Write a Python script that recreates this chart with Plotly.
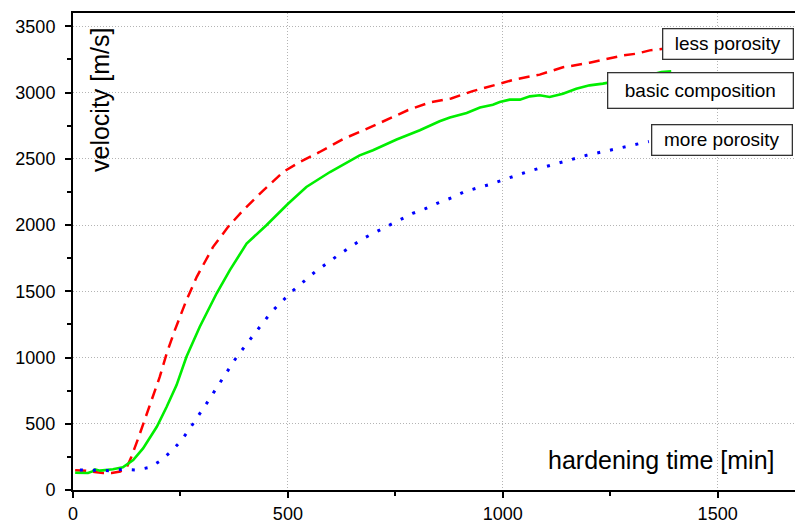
import plotly.graph_objects as go

# less porosity (red dashed)
t_less = [5, 30, 50, 70, 90, 110, 125, 136, 152, 167, 183, 202, 218, 237, 264, 288, 326, 361, 396,
          443, 489, 528, 574, 629, 680, 730, 780, 830, 880, 930, 980, 1030, 1086, 1140, 1202, 1249,
          1280, 1311, 1342, 1390]
v_less = [150, 145, 135, 128, 128, 140, 170, 251, 392, 528, 679, 855, 1031, 1207, 1433, 1609, 1835,
          1986, 2112, 2262, 2400, 2476, 2551, 2650, 2720, 2795, 2868, 2925, 2955, 3010, 3055, 3100,
          3135, 3190, 3225, 3255, 3280, 3293, 3318, 3335]

# basic composition (green solid)
t_basic = [5, 20, 35, 45, 51, 63, 80, 93, 116, 140, 163, 195, 218, 241, 264, 295, 334, 365, 404,
           450, 501, 543, 598, 667, 698, 753, 807, 853, 877, 916, 947, 977, 993, 1016, 1040, 1063,
           1086, 1109, 1140, 1171, 1202, 1233, 1290, 1340, 1369, 1392]
v_basic = [130, 127, 128, 140, 156, 146, 150, 156, 171, 226, 314, 477, 628, 792, 1005, 1232, 1483,
           1659, 1860, 1998, 2162, 2287, 2400, 2526, 2564, 2645, 2715, 2783, 2811, 2846, 2886,
           2908, 2928, 2946, 2946, 2971, 2979, 2966, 2991, 3029, 3054, 3067, 3100, 3130, 3155, 3160]

# more porosity (blue dotted)
t_more = [16, 50, 86, 116, 148, 179, 206, 230, 253, 272, 291, 311, 346, 381, 423, 462, 509, 563,
          617, 671, 701, 731, 760, 790, 820, 850, 881, 910, 941, 972, 1003, 1034, 1063, 1125, 1195,
          1257, 1288, 1319, 1340]
v_more = [151, 150, 146, 156, 151, 171, 226, 296, 377, 465, 553, 654, 830, 1005, 1182, 1345, 1496,
          1646, 1772, 1890, 1941, 1991, 2036, 2087, 2124, 2167, 2205, 2250, 2280, 2308, 2343, 2376,
          2408, 2463, 2526, 2570, 2594, 2619, 2630]

x_ticks = [0, 500, 1000, 1500]
y_ticks = [0, 500, 1000, 1500, 2000, 2500, 3000, 3500]

FONT = "Liberation Sans, Arial, sans-serif"

fig = go.Figure()
fig.add_trace(go.Scatter(x=t_less, y=v_less, mode="lines",
                         line=dict(color="#ff0000", width=2.5, dash="11px,7px"),
                         name="less porosity"))
fig.add_trace(go.Scatter(x=t_basic, y=v_basic, mode="lines",
                         line=dict(color="#00ee00", width=2.6),
                         name="basic composition"))
fig.add_trace(go.Scatter(x=t_more, y=v_more, mode="lines",
                         line=dict(color="#0000ff", width=3, dash="3px,10px"),
                         name="more porosity"))

minor = dict(ticks="outside", ticklen=4, tickwidth=2, tickcolor="black", showgrid=False,
             dtick=250, tick0=0)
axis_common = dict(
    showline=True, linecolor="black", linewidth=2,
    ticks="outside", ticklen=6, tickwidth=2, tickcolor="black",
    showgrid=True, gridcolor="#b4b4b4", griddash="1px,2px", gridwidth=1,
    zeroline=False, automargin=False,
    tickfont=dict(family=FONT, size=18, color="black"),
    minor=minor,
)

fig.update_xaxes(range=[0, 1680], tickvals=x_ticks, mirror=True, **axis_common)
fig.update_yaxes(range=[0, 3600], tickvals=y_ticks, ticklabelstandoff=6, **axis_common)

L, T, B = 73, 13, 35
W, H = 795, 525
pw, ph = W - L, H - T - B


def px_x(px):
    return (px - L) / pw


def px_y(py):
    return (H - B - py) / ph


annotations = [
    dict(text="velocity [m/s]", textangle=-90, x=px_x(100), y=px_y(100), xref="paper", yref="paper",
         xanchor="center", yanchor="middle",
         showarrow=False, font=dict(family=FONT, size=25, color="black")),
    dict(text="hardening time [min]", x=px_x(661), y=px_y(460), xref="paper", yref="paper",
         xanchor="center", yanchor="middle",
         showarrow=False, font=dict(family=FONT, size=25, color="black")),
]

boxes = [("less porosity", 662, 28, 131, 31),
         ("basic composition", 607, 72, 186, 36),
         ("more porosity", 651, 124, 141, 31)]
for txt, bx, by, bw, bh in boxes:
    annotations.append(dict(text=txt, x=px_x(bx), y=px_y(by), xref="paper", yref="paper",
                            xanchor="left", yanchor="top", showarrow=False,
                            width=bw - 2, height=bh - 2, borderpad=0, borderwidth=1.3,
                            bordercolor="#333333", bgcolor="white", align="center", valign="middle",
                            font=dict(family=FONT, size=19, color="black")))

fig.update_layout(
    width=W, height=H,
    margin=dict(l=L, r=0, t=T, b=B),
    paper_bgcolor="white", plot_bgcolor="white",
    showlegend=False,
    annotations=annotations,
)

fig.write_html("out.html", config={"displayModeBar": False},
               post_script="document.body.style.margin='0';document.body.style.overflow='hidden';")
